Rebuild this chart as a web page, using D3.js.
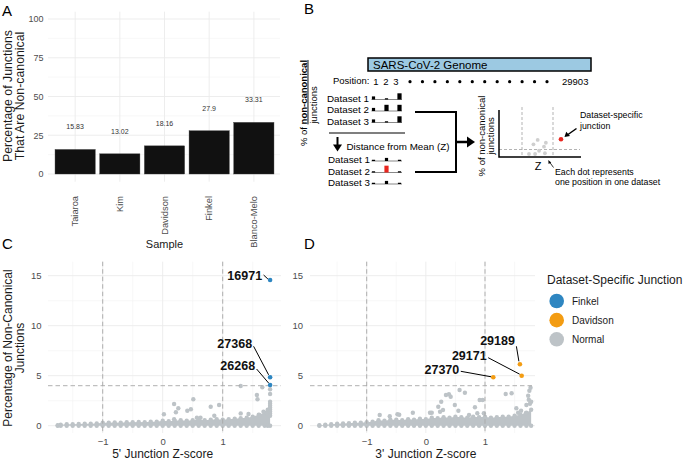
<!DOCTYPE html>
<html><head><meta charset="utf-8">
<script src="https://cdn.jsdelivr.net/npm/d3@7/dist/d3.min.js"></script>
<style>
html,body{margin:0;padding:0;background:#fff;}
svg{display:block;font-family:"Liberation Sans",Arial,Helvetica,sans-serif;}
</style></head>
<body>
<svg id="fig" width="685" height="460"></svg>
<script>
// ---------- DATA ----------
// Panel A
const samples = ["Taiaroa","Kim","Davidson","Finkel","Blanco-Melo"];
const pctNonCanonical = [15.83,13.02,18.16,27.9,33.31];
const yTicksA = [0,25,50,75,100];

// Panel B (schematic)
const datasetNames = ["Dataset 1","Dataset 2","Dataset 3"];
const rawHeights = [[1,0.4,2],[1,2,2],[1,0.4,2]];     // upper mini bars
const zHeights   = [[0.4,1,0.4],[0.4,2.2,0.4],[0.4,1,0.4]]; // lower mini bars
const zHighlight = [[0,0,0],[0,1,0],[0,0,0]];
const genomePositions = ["1","2","3"];
const genomeEnd = "29903";
const schematicDotsX = [1.65,1.47,2.0,1.92,1.71,1.54,1.28,1.96];
const schematicDotsY = [1.09,0.81,0.91,0.66,0.40,0.19,0.19,0.24];

// Legend
const groups = ["Finkel","Davidson","Normal"];
const groupColors = ["#2E86C1","#F39C12","#BDC3C7"];

// Panel C : 5' junction
const c5BandX   = [-1.75,-1.7,-1.6,-1.5,-1.4,-1.3,-1.2,-1.1,-1.0,-0.9,-0.8,-0.7,-0.6,-0.5,-0.4,-0.3,-0.2,-0.1,0.0,0.1,0.2,0.3,0.4,0.5,0.6,0.7,0.8,0.9,1.0,1.1,1.2,1.3,1.4,1.5,1.6,1.7,1.75,1.79];
const c5BandTop = [0.05,0.1,0.15,0.15,0.18,0.2,0.2,0.22,0.3,0.3,0.32,0.3,0.35,0.35,0.38,0.35,0.4,0.4,0.5,0.45,0.5,0.55,0.5,0.55,0.6,0.55,0.6,0.65,0.6,0.65,0.7,0.75,0.8,0.9,1.1,1.3,1.6,2.4];
const c5OutX = [0.02,0.19,0.22,0.26,0.19,0.41,0.47,0.51,0.57,0.63,0.80,0.86,0.94,1.30,1.30,1.43,1.57,1.58,1.66,1.61,1.68,1.74,1.79,1.79,1.79,1.79,1.79,1.79,1.79,1.79,1.79];
const c5OutY = [1.14,2.17,1.34,1.74,0.64,1.50,1.64,2.64,0.80,0.80,1.90,1.00,2.07,3.97,1.23,1.17,3.07,2.64,3.84,1.07,1.40,1.24,3.17,3.64,2.20,2.00,1.80,1.60,1.40,1.20,1.00];
const c5HiX = [1.79,1.79,1.79];
const c5HiY = [14.57,4.84,4.07];
const c5HiLabel = ["16971","27368","26268"];
const c5HiGroup = ["Finkel","Finkel","Finkel"];

// Panel D : 3' junction
const d3BandX   = [-1.8,-1.7,-1.6,-1.5,-1.4,-1.3,-1.2,-1.1,-1.0,-0.9,-0.8,-0.7,-0.6,-0.5,-0.4,-0.3,-0.2,-0.1,0.0,0.1,0.2,0.3,0.4,0.5,0.6,0.7,0.8,0.9,1.0,1.1,1.2,1.3,1.4,1.5,1.6,1.7,1.78];
const d3BandTop = [0.05,0.1,0.15,0.2,0.22,0.25,0.3,0.3,0.35,0.4,0.55,0.5,0.6,0.6,0.55,0.65,0.6,0.7,0.65,0.8,0.75,0.85,0.8,0.9,0.85,0.8,0.9,0.85,0.9,0.8,0.85,0.9,0.9,1.0,1.1,1.3,1.6];
const d3OutX = [-0.78,-0.61,-0.48,-0.45,-0.22,0.07,0.10,0.21,0.24,0.26,0.29,0.34,0.39,0.42,0.49,0.57,0.66,0.55,0.73,0.83,0.87,0.91,0.96,0.98,1.35,1.45,1.53,1.56,1.61,1.69,1.70,1.73,1.75,1.77,1.74,1.78,1.76];
const d3OutY = [1.07,0.95,1.14,1.10,1.30,1.30,1.30,1.90,1.40,2.40,1.57,3.07,3.14,2.90,2.07,3.57,3.30,1.50,1.07,1.84,1.24,2.57,2.57,1.24,3.17,3.24,1.74,1.30,1.50,1.24,2.07,3.00,3.50,3.80,2.60,2.40,2.20];
const d3HiX = [1.59,1.62,1.14];
const d3HiY = [6.14,5.00,4.84];
const d3HiLabel = ["29189","29171","27370"];
const d3HiGroup = ["Davidson","Davidson","Davidson"];

const zTicks = [-1,0,1];
const pctTicks = [0,5,10,15];

// ---------- LAYOUT ----------
const svg = d3.select("#fig");
const FONT = '"Liberation Sans",Arial,Helvetica,sans-serif';
const GRID = "#ebebeb", GRIDMIN = "#f3f3f3", TICKC = "#4d4d4d", TITLEC = "#1a1a1a";
const color = d3.scaleOrdinal().domain(groups).range(groupColors);

function panelLetter(t,x,y){
  svg.append("text").attr("x",x).attr("y",y).attr("font-size",15).attr("fill","#000").text(t);
}
function styleAxis(g,fs){
  g.select(".domain").remove();
  g.selectAll("line").remove();
  g.selectAll("text").attr("fill",TICKC).attr("font-size",fs).attr("font-family",FONT);
}

// ===== Panel A =====
panelLetter("A",2,16);
const xA = d3.scaleBand().domain(samples).range([52.8,276.2]).paddingInner(0.1).paddingOuter(0.05);
const yA = d3.scaleLinear().domain([0,100]).range([174,19]);
const gA = svg.append("g");
[12.5,37.5,62.5,87.5].forEach(v=>{
  gA.append("line").attr("x1",48).attr("x2",280).attr("y1",yA(v)).attr("y2",yA(v)).attr("stroke",GRIDMIN).attr("stroke-width",0.6);
});
yTicksA.forEach(v=>{
  gA.append("line").attr("x1",48).attr("x2",280).attr("y1",yA(v)).attr("y2",yA(v)).attr("stroke",GRID).attr("stroke-width",0.9);
});
samples.forEach(s=>{
  const cx = xA(s)+xA.bandwidth()/2;
  gA.append("line").attr("x1",cx).attr("x2",cx).attr("y1",11.7).attr("y2",181.7).attr("stroke",GRID).attr("stroke-width",0.9);
});
gA.selectAll("rect.bar").data(samples).join("rect").attr("class","bar")
  .attr("x",d=>xA(d)).attr("width",xA.bandwidth())
  .attr("y",(d,i)=>yA(pctNonCanonical[i])).attr("height",(d,i)=>yA(0)-yA(pctNonCanonical[i]))
  .attr("fill","#111111").attr("stroke","#3a3a3a").attr("stroke-width",0.4);
gA.selectAll("text.blab").data(samples).join("text").attr("class","blab")
  .attr("x",d=>xA(d)+xA.bandwidth()/2).attr("y",(d,i)=>yA(pctNonCanonical[i]+14.5)+2.5)
  .attr("text-anchor","middle").attr("font-size",7).attr("fill","#333")
  .text((d,i)=>pctNonCanonical[i]);
const ayA = gA.append("g").attr("transform","translate(46,0)")
  .call(d3.axisLeft(yA).tickValues(yTicksA).tickSize(0).tickPadding(2.5));
styleAxis(ayA,9);
const axA = gA.append("g").attr("transform","translate(0,194)")
  .call(d3.axisBottom(xA).tickSize(0).tickPadding(0));
styleAxis(axA,9.3);
axA.selectAll("text").attr("transform","rotate(-90)").attr("text-anchor","end")
  .attr("x",-2).attr("y",0).attr("dy","0.35em");
gA.append("text").attr("transform","translate(7.5,96) rotate(-90)").attr("text-anchor","middle")
  .attr("dy","0.35em").attr("font-size",12.3).attr("fill",TITLEC).text("Percentage of Junctions");
gA.append("text").attr("transform","translate(19.5,96) rotate(-90)").attr("text-anchor","middle")
  .attr("dy","0.35em").attr("font-size",12.3).attr("fill",TITLEC).text("That Are Non-canonical");
gA.append("text").attr("x",164.5).attr("y",248).attr("text-anchor","middle")
  .attr("font-size",11).attr("fill",TITLEC).text("Sample");

// ===== Panel B =====
panelLetter("B",304,14);
const gB = svg.append("g").attr("font-family",FONT).attr("fill","#000");
gB.append("rect").attr("x",368).attr("y",58).attr("width",223).attr("height",13)
  .attr("fill","#9cc9e2").attr("stroke","#000").attr("stroke-width",1.5);
gB.append("text").attr("x",373).attr("y",69).attr("font-size",11.5).text("SARS-CoV-2 Genome");
gB.append("text").attr("x",333).attr("y",84).attr("font-size",9.5).text("Position:");
const posX = d3.scalePoint().domain(genomePositions).range([376,396]);
genomePositions.forEach(p=>gB.append("text").attr("x",posX(p)).attr("y",84.5).attr("text-anchor","middle").attr("font-size",9.5).text(p));
const dotScale = d3.scaleLinear().domain([0,11]).range([410,547]);
d3.range(12).forEach(i=>gB.append("circle").attr("cx",dotScale(i)).attr("cy",81.7).attr("r",1.6).attr("fill","#000"));
gB.append("text").attr("x",562).attr("y",85).attr("font-size",9.5).text(genomeEnd);

const lt = gB.append("text").attr("transform","translate(306.5,103) rotate(-90)").attr("text-anchor","middle").attr("font-size",9.5);
lt.append("tspan").text("% of ");
lt.append("tspan").attr("font-weight","bold").attr("text-decoration","underline").text("non-canonical");
gB.append("text").attr("transform","translate(317,105) rotate(-90)").attr("text-anchor","middle").attr("font-size",9.5).text("junctions");

const miniX = d3.scalePoint().domain([0,1,2]).range([373.5,399.5]);
const miniH = d3.scaleLinear().domain([0,2]).range([0,6.2]);
function miniChart(yBase, heights, hl){
  gB.append("line").attr("x1",371.5).attr("x2",402).attr("y1",yBase).attr("y2",yBase).attr("stroke","#555").attr("stroke-width",0.7);
  heights.forEach((h,j)=>{
    const w = h>=1.5 ? 4.2 : 3.2;
    gB.append("rect").attr("x",miniX(j)-w/2).attr("y",yBase-miniH(h)).attr("width",w).attr("height",miniH(h))
      .attr("fill",hl && hl[j] ? "#e8261f" : "#000");
  });
}
const upperRowY = [98,109.5,121];
datasetNames.forEach((n,i)=>{
  gB.append("text").attr("x",327).attr("y",upperRowY[i]+3.5).attr("font-size",9.8).text(n);
  miniChart(upperRowY[i]+1.5, rawHeights[i], null);
});
gB.append("line").attr("x1",329).attr("x2",405).attr("y1",133).attr("y2",133).attr("stroke","#000").attr("stroke-width",1.2);
gB.append("line").attr("x1",337.5).attr("x2",337.5).attr("y1",137).attr("y2",146).attr("stroke","#000").attr("stroke-width",2);
gB.append("path").attr("d","M333,144.5 L342,144.5 L337.5,151.5 Z").attr("fill","#000");
gB.append("text").attr("x",346.5).attr("y",149.5).attr("font-size",9.8).text("Distance from Mean (Z)");
const lowerRowY = [159.5,171,182.5];
datasetNames.forEach((n,i)=>{
  gB.append("text").attr("x",328).attr("y",lowerRowY[i]+3.5).attr("font-size",9.8).text(n);
  miniChart(lowerRowY[i]+1.5, zHeights[i], zHighlight[i]);
});
gB.append("path").attr("d","M415,112 L456,112 L456,172 L415,172").attr("fill","none").attr("stroke","#000").attr("stroke-width",2);
gB.append("line").attr("x1",456).attr("x2",468).attr("y1",142).attr("y2",142).attr("stroke","#000").attr("stroke-width",2.5);
gB.append("path").attr("d","M467,136.5 L475,142 L467,147.5 Z").attr("fill","#000");
const sx = d3.scaleLinear().domain([0,3.5]).range([499,581]);
const sy = d3.scaleLinear().domain([0,3]).range([157,110]);
gB.append("line").attr("x1",522).attr("x2",522).attr("y1",107).attr("y2",157).attr("stroke","#aaa").attr("stroke-width",0.9).attr("stroke-dasharray","3,2");
gB.append("line").attr("x1",553).attr("x2",553).attr("y1",107).attr("y2",157).attr("stroke","#aaa").attr("stroke-width",0.9).attr("stroke-dasharray","3,2");
gB.append("line").attr("x1",499).attr("x2",580).attr("y1",149.5).attr("y2",149.5).attr("stroke","#aaa").attr("stroke-width",0.9).attr("stroke-dasharray","3,2");
schematicDotsX.forEach((x,i)=>gB.append("circle").attr("cx",sx(x)).attr("cy",sy(schematicDotsY[i])).attr("r",1.9).attr("fill","#cfcfcf"));
gB.append("path").attr("d","M499,110 L499,157 L581,157").attr("fill","none").attr("stroke","#000").attr("stroke-width",1.5);
gB.append("circle").attr("cx",561).attr("cy",139.3).attr("r",2.3).attr("fill","#e8261f");
gB.append("text").attr("transform","translate(484.5,136) rotate(-90)").attr("text-anchor","middle").attr("font-size",9.5).text("% of non-canonical");
gB.append("text").attr("transform","translate(493.5,136) rotate(-90)").attr("text-anchor","middle").attr("font-size",9.5).text("junctions");
gB.append("text").attr("x",580).attr("y",118).attr("font-size",8.8).text("Dataset-specific");
gB.append("text").attr("x",580).attr("y",128.5).attr("font-size",8.8).text("junction");
gB.append("line").attr("x1",576.5).attr("x2",568).attr("y1",128.5).attr("y2",134.5).attr("stroke","#000").attr("stroke-width",1.5);
gB.append("path").attr("d","M564.5,137 L566.2,131.8 L570,136 Z").attr("fill","#000");
gB.append("text").attr("x",538).attr("y",170).attr("text-anchor","middle").attr("font-size",11).text("Z");
gB.append("line").attr("x1",553.5).attr("x2",549.5).attr("y1",167.5).attr("y2",162).attr("stroke","#000").attr("stroke-width",0.8);
gB.append("path").attr("d","M548.3,160 L548.6,164 L551.2,162.4 Z").attr("fill","#000");
gB.append("text").attr("x",555).attr("y",175).attr("font-size",8.8).text("Each dot represents");
gB.append("text").attr("x",555).attr("y",185).attr("font-size",8.8).text("one position in one dataset");

// ===== Scatter panels =====
function scatterPanel(opt){
  const g = svg.append("g");
  const x = d3.scaleLinear().domain([-1,1]).range(opt.xr);
  const y = d3.scaleLinear().domain([0,15]).range([425.7,275.7]);
  const L = opt.left, R = opt.right, T = 261.7, B = 433;
  [-1.5,-0.5,0.5,1.5].forEach(v=>g.append("line").attr("x1",x(v)).attr("x2",x(v)).attr("y1",T).attr("y2",B).attr("stroke",GRIDMIN).attr("stroke-width",0.6));
  [2.5,7.5,12.5].forEach(v=>g.append("line").attr("x1",L).attr("x2",R).attr("y1",y(v)).attr("y2",y(v)).attr("stroke",GRIDMIN).attr("stroke-width",0.6));
  zTicks.forEach(v=>g.append("line").attr("x1",x(v)).attr("x2",x(v)).attr("y1",T).attr("y2",B).attr("stroke",GRID).attr("stroke-width",0.9));
  pctTicks.forEach(v=>g.append("line").attr("x1",L).attr("x2",R).attr("y1",y(v)).attr("y2",y(v)).attr("stroke",GRID).attr("stroke-width",0.9));
  const band = opt.bandX.map((bx,i)=>({x:bx,top:opt.bandTop[i]}));
  const grey = color("Normal");
  g.append("path").datum(band).attr("d",d3.area().x(d=>x(d.x)).y0(y(0)).y1(d=>y(d.top))).attr("fill",grey);
  g.selectAll("circle.bt").data(band).join("circle").attr("class","bt").attr("cx",d=>x(d.x)).attr("cy",d=>y(d.top)).attr("r",2.2).attr("fill",grey);
  g.selectAll("circle.bb").data(band).join("circle").attr("class","bb").attr("cx",d=>x(d.x)).attr("cy",y(0)).attr("r",2.2).attr("fill",grey);
  g.selectAll("circle.out").data(opt.outX).join("circle").attr("class","out")
    .attr("cx",d=>x(d)).attr("cy",(d,i)=>y(opt.outY[i])).attr("r",2.2).attr("fill",grey);
  zTicks.filter(v=>v!==0).forEach(v=>g.append("line").attr("x1",x(v)).attr("x2",x(v)).attr("y1",T).attr("y2",B).attr("stroke","#a8a8a8").attr("stroke-width",0.9).attr("stroke-dasharray","4.5,3"));
  g.append("line").attr("x1",L).attr("x2",R).attr("y1",y(4)).attr("y2",y(4)).attr("stroke","#a8a8a8").attr("stroke-width",0.9).attr("stroke-dasharray","4.5,3");
  opt.hiX.forEach((hx,i)=>{
    const px = x(hx), py = y(opt.hiY[i]);
    const lay = opt.labLayout[i];
    const tx = px+lay[0], ty = py+lay[1];
    g.append("line").attr("x1",tx+1.5).attr("y1",ty+lay[2]).attr("x2",px-lay[3]).attr("y2",py-lay[4]).attr("stroke","#000").attr("stroke-width",1);
    g.append("circle").attr("cx",px).attr("cy",py).attr("r",2.3).attr("fill",color(opt.hiGroup[i]));
    g.append("text").attr("x",tx).attr("y",ty).attr("dy","0.36em").attr("text-anchor","end")
      .attr("font-size",12.5).attr("font-weight","bold").attr("fill","#111").text(opt.hiLabel[i]);
  });
  const ay = g.append("g").attr("transform",`translate(${opt.yAxisX},0)`)
    .call(d3.axisLeft(y).tickValues(pctTicks).tickSize(0).tickPadding(2.5));
  styleAxis(ay,9.5);
  const ax = g.append("g").attr("transform","translate(0,434)")
    .call(d3.axisBottom(x).tickValues(zTicks).tickSize(0).tickPadding(4).tickFormat(d3.format("d")));
  styleAxis(ax,9.5);
  g.append("text").attr("x",(x(0))).attr("y",457.5).attr("text-anchor","middle").attr("font-size",12).attr("fill",TITLEC).text(opt.xTitle);
  return g;
}

panelLetter("C",2,249);
scatterPanel({xr:[102.7,222.7], left:48, right:281, yAxisX:44,
  bandX:c5BandX, bandTop:c5BandTop, outX:c5OutX, outY:c5OutY,
  hiX:c5HiX, hiY:c5HiY, hiLabel:c5HiLabel, hiGroup:c5HiGroup,
  labLayout:[[-8,-5,0,2.2,1],[-18,-34,3,1.5,2.5],[-15,-20,4,1.5,2]],
  xTitle:"5' Junction Z-score"});
svg.append("text").attr("transform","translate(7.5,348) rotate(-90)").attr("text-anchor","middle").attr("dy","0.35em")
  .attr("font-size",12).attr("fill",TITLEC).text("Percentage of Non-Canonical");
svg.append("text").attr("transform","translate(20,348) rotate(-90)").attr("text-anchor","middle").attr("dy","0.35em")
  .attr("font-size",12).attr("fill",TITLEC).text("Junctions");

panelLetter("D",304,249);
scatterPanel({xr:[366.7,485], left:310, right:535, yAxisX:305.5,
  bandX:d3BandX, bandTop:d3BandTop, outX:d3OutX, outY:d3OutY,
  hiX:d3HiX, hiY:d3HiY, hiLabel:d3HiLabel, hiGroup:d3HiGroup,
  labLayout:[[-5,-24,6,1,3],[-35,-20,2,2,1.5],[-34,-8,2,2,0.5]],
  xTitle:"3' Junction Z-score"});

const gL = svg.append("g");
gL.append("text").attr("x",547).attr("y",284).attr("font-size",12).attr("fill",TITLEC).text("Dataset-Specific Junction");
const legY = d3.scalePoint().domain(groups).range([301,339.3]);
groups.forEach(gname=>{
  gL.append("circle").attr("cx",556.7).attr("cy",legY(gname)).attr("r",7.3).attr("fill",color(gname));
  gL.append("text").attr("x",572).attr("y",legY(gname)).attr("dy","0.35em").attr("font-size",10).attr("fill",TITLEC).text(gname);
});
</script>
</body></html>
